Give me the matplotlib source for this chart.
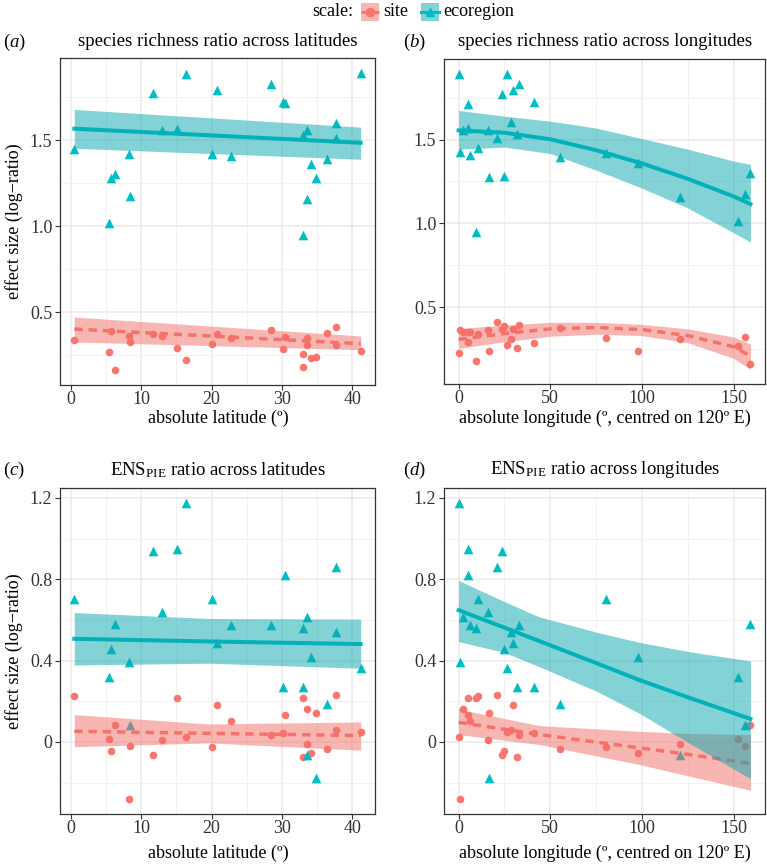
import numpy as np
import matplotlib
matplotlib.use("Agg")
import matplotlib.pyplot as plt
from matplotlib.patches import Rectangle
from matplotlib.lines import Line2D

plt.rcParams['font.family'] = ['Liberation Serif', 'DejaVu Serif']
plt.rcParams['mathtext.fontset'] = 'custom'
plt.rcParams['mathtext.rm'] = 'Liberation Serif'
plt.rcParams['mathtext.it'] = 'Liberation Serif:italic'
plt.rcParams['mathtext.bf'] = 'Liberation Serif:bold'

# ---------------- data (one entry per ecoregion) ----------------
latitude = [0.5, 5.5, 5.75, 6.27, 8.33, 8.37, 11.7, 13.0, 15.1, 16.4, 20.1, 20.8, 22.8,
            28.5, 30.1, 30.5, 33.0, 33.0, 33.5, 33.5, 34.2, 34.8, 36.4, 37.7, 37.7, 41.2]
longitude = [10.5, 152.5, 24.6, 159.2, 0.9, 156.5, 23.7, 15.9, 5.4, 0.0, 80.4, 29.7, 6.0,
             33.2, 41.3, 4.9, 9.6, 31.7, 2.4, 121.0, 98.0, 16.5, 55.3, 28.6, 20.8, 26.3]
rich_site = [0.337, 0.266, 0.388, 0.162, 0.363, 0.324, 0.372, 0.363, 0.289, 0.223, 0.314, 0.370, 0.351,
             0.396, 0.285, 0.353, 0.181, 0.258, 0.351, 0.310, 0.235, 0.239, 0.378, 0.310, 0.411, 0.275]
rich_eco = [1.448, 1.016, 1.283, 1.303, 1.423, 1.177, 1.773, 1.558, 1.568, 1.889, 1.419, 1.794, 1.409,
            1.829, 1.726, 1.715, 0.951, 1.531, 1.558, 1.160, 1.361, 1.278, 1.394, 1.603, 1.512, 1.893]
ens_site = [0.228, 0.016, -0.046, 0.083, -0.282, -0.020, -0.065, 0.010, 0.215, 0.023, -0.024, 0.181, 0.104,
            0.036, 0.046, 0.134, 0.217, -0.075, 0.163, -0.010, -0.054, 0.142, -0.033, 0.057, 0.232, 0.049]
ens_eco = [0.705, 0.318, 0.455, 0.579, 0.395, 0.085, 0.938, 0.639, 0.951, 1.176, 0.703, 0.488, 0.574,
           0.577, 0.269, 0.821, 0.560, 0.271, 0.615, -0.067, 0.416, -0.178, 0.184, 0.540, 0.860, 0.365]

# ---------------- fitted lines and confidence bands ----------------
# (a) richness vs latitude
a_x = [0.5, 41.2]
a_site_fit = [0.401, 0.316]; a_site_lo = [0.326, 0.281]; a_site_hi = [0.471, 0.361]
a_eco_fit = [1.568, 1.486]; a_eco_lo = [1.454, 1.390]; a_eco_hi = [1.680, 1.577]
# (b) richness vs longitude
b_x = [0, 25, 50, 75, 100, 125, 150, 159.2]
b_site_fit = [0.307, 0.342, 0.370, 0.378, 0.366, 0.330, 0.263, 0.208]
b_site_hi = [0.372, 0.392, 0.409, 0.409, 0.397, 0.370, 0.322, 0.279]
b_site_lo = [0.253, 0.293, 0.326, 0.338, 0.330, 0.287, 0.194, 0.129]
b_eco_fit = [1.555, 1.541, 1.502, 1.437, 1.358, 1.266, 1.161, 1.115]
b_eco_hi = [1.674, 1.640, 1.610, 1.569, 1.506, 1.443, 1.372, 1.352]
b_eco_lo = [1.443, 1.455, 1.417, 1.318, 1.210, 1.092, 0.944, 0.889]
# (c) ENS_PIE vs latitude
c_x = [0.5, 19.6, 41.2]
c_site_fit = [0.052, 0.042, 0.031]; c_site_hi = [0.134, 0.088, 0.098]; c_site_lo = [-0.024, -0.005, -0.041]
c_eco_fit = [0.507, 0.494, 0.481]; c_eco_hi = [0.636, 0.607, 0.604]; c_eco_lo = [0.378, 0.387, 0.362]
# (d) ENS_PIE vs longitude
d_site_x = [0, 44, 98.4, 125.5, 159.2]
d_site_fit = [0.096, 0.036, -0.029, -0.062, -0.106]
d_site_hi = [0.161, 0.080, 0.052, 0.041, 0.036]
d_site_lo = [0.036, -0.013, -0.111, -0.168, -0.238]
d_eco_x = [0, 25, 44, 75, 98.4, 125.5, 159.2]
d_eco_fit = [0.648, 0.562, 0.496, 0.388, 0.305, 0.218, 0.113]
d_eco_hi = [0.794, 0.690, 0.615, 0.540, 0.490, 0.444, 0.398]
d_eco_lo = [0.493, 0.440, 0.370, 0.250, 0.142, -0.005, -0.181]

titles = ['species richness ratio across latitudes',
          'species richness ratio across longitudes',
          r'ENS$_{\mathrm{PIE}}$ ratio across latitudes',
          r'ENS$_{\mathrm{PIE}}$ ratio across longitudes']
tags = [r'($\it{a}$)', r'($\it{b}$)', r'($\it{c}$)', r'($\it{d}$)']
xlabels = ['absolute latitude (º)', 'absolute longitude (º, centred on 120º E)']
ylabel = 'effect size (log\u2212ratio)'
legend_title = 'scale:'
legend_labels = ['site', 'ecoregion']

RED = '#F8766D'
TEAL = '#00BFC4'
RED_FILL = '#F36E68'
TEAL_FILL = '#06A7AF'
W, H = 767, 865

fig = plt.figure(figsize=(W / 100, H / 100), dpi=100)


def fx(px):
    return px / W


def fy(py):
    return 1 - py / H


def make_ax(l, t, r, b):
    return fig.add_axes([fx(l), fy(b), (r - l) / W, (b - t) / H])


def expand(vals, f=0.05):
    lo, hi = min(vals), max(vals)
    d = (hi - lo) * f
    return lo - d, hi + d


def panel(ax, x, site, eco, sx, sfit, slo, shi, ex, efit, elo, ehi,
          xticks, xminor, yticks, ylabs, yminor):
    ax.scatter(x, site, marker='o', s=30, color=RED, linewidths=0, zorder=2)
    ax.scatter(x, eco, marker='^', s=48, color=TEAL, linewidths=0, zorder=2)
    ax.plot(sx, sfit, color=RED, lw=2.5, ls=(0, (2.4, 1.7)), zorder=3, solid_capstyle='butt')
    ax.plot(ex, efit, color=TEAL, lw=2.9, zorder=3)
    ax.fill_between(sx, slo, shi, color=RED_FILL, alpha=0.5, lw=0, zorder=4)
    ax.fill_between(ex, elo, ehi, color=TEAL_FILL, alpha=0.5, lw=0, zorder=5)
    ax.set_xlim(*expand(list(x) + list(sx) + list(ex)))
    ax.set_ylim(*expand(list(site) + list(eco) + list(slo) + list(shi) + list(elo) + list(ehi)))
    ax.set_xticks(xticks)
    ax.set_xticks(xminor, minor=True)
    ax.set_yticks(yticks)
    ax.set_yticklabels(ylabs)
    ax.set_yticks(yminor, minor=True)
    ax.grid(which='major', color='#EBEBEB', lw=1.1, zorder=0)
    ax.grid(which='minor', color='#F2F2F2', lw=0.7, zorder=0)
    ax.set_axisbelow(True)
    ax.tick_params(which='major', direction='out', length=3.5, width=0.8, color='#333333',
                   labelsize=13, labelcolor='#333333', pad=2)
    ax.tick_params(axis='x', which='major', pad=1)
    ax.tick_params(which='minor', length=0)
    for s in ax.spines.values():
        s.set_color('#333333')
        s.set_linewidth(0.9)


axA = make_ax(60, 58, 375, 385)
axB = make_ax(444, 59, 765, 384)
axC = make_ax(60, 488, 375, 814)
axD = make_ax(444, 488, 765, 814)

lat_ticks, lat_minor = [0, 10, 20, 30, 40], [5, 15, 25, 35]
lon_ticks, lon_minor = [0, 50, 100, 150], [25, 75, 125]
r_ticks, r_labs, r_minor = [0.5, 1.0, 1.5], ['0.5', '1.0', '1.5'], [0.25, 0.75, 1.25, 1.75]
e_ticks, e_labs, e_minor = [0, 0.4, 0.8, 1.2], ['0', '0.4', '0.8', '1.2'], [-0.2, 0.2, 0.6, 1.0]

panel(axA, latitude, rich_site, rich_eco, a_x, a_site_fit, a_site_lo, a_site_hi,
      a_x, a_eco_fit, a_eco_lo, a_eco_hi, lat_ticks, lat_minor, r_ticks, r_labs, r_minor)
panel(axB, longitude, rich_site, rich_eco, b_x, b_site_fit, b_site_lo, b_site_hi,
      b_x, b_eco_fit, b_eco_lo, b_eco_hi, lon_ticks, lon_minor, r_ticks, r_labs, r_minor)
panel(axC, latitude, ens_site, ens_eco, c_x, c_site_fit, c_site_lo, c_site_hi,
      c_x, c_eco_fit, c_eco_lo, c_eco_hi, lat_ticks, lat_minor, e_ticks, e_labs, e_minor)
panel(axD, longitude, ens_site, ens_eco, d_site_x, d_site_fit, d_site_lo, d_site_hi,
      d_eco_x, d_eco_fit, d_eco_lo, d_eco_hi, lon_ticks, lon_minor, e_ticks, e_labs, e_minor)

FT = 13.5
FS = 13
# titles and tags
fig.text(fx(218), fy(42), titles[0], ha='center', va='center', fontsize=FT)
fig.text(fx(605), fy(42), titles[1], ha='center', va='center', fontsize=FT)
fig.text(fx(218), fy(470), titles[2], ha='center', va='center', fontsize=FT)
fig.text(fx(605), fy(470), titles[3], ha='center', va='center', fontsize=FT)
fig.text(fx(14), fy(42), tags[0], ha='center', va='center', fontsize=FT)
fig.text(fx(414), fy(42), tags[1], ha='center', va='center', fontsize=FT)
fig.text(fx(14), fy(470), tags[2], ha='center', va='center', fontsize=FT)
fig.text(fx(414), fy(470), tags[3], ha='center', va='center', fontsize=FT)
# axis labels
fig.text(fx(218), fy(418), xlabels[0], ha='center', va='center', fontsize=FS)
fig.text(fx(605), fy(418), xlabels[1], ha='center', va='center', fontsize=FS)
fig.text(fx(218), fy(853), xlabels[0], ha='center', va='center', fontsize=FS)
fig.text(fx(605), fy(853), xlabels[1], ha='center', va='center', fontsize=FS)
fig.text(fx(14), fy(221), ylabel, rotation=90, ha='center', va='center', fontsize=FS)
fig.text(fx(14), fy(651), ylabel, rotation=90, ha='center', va='center', fontsize=FS)

# legend (drawn in pixel space)
lax = fig.add_axes([0, 0, 1, 1], facecolor='none')
lax.set_xlim(0, W)
lax.set_ylim(H, 0)
lax.axis('off')
lax.text(353, 12, legend_title, ha='right', va='center', fontsize=FS)
for kx, col, fcol, mk, ls, lab in [(361, RED, RED_FILL, 'o', (0, (2.4, 1.7)), legend_labels[0]),
                                   (421, TEAL, TEAL_FILL, '^', '-', legend_labels[1])]:
    lax.add_patch(Rectangle((kx, 3), 18, 18, facecolor=fcol, alpha=0.5, lw=0))
    lax.add_line(Line2D([kx, kx + 18], [12, 12], color=col, lw=2.2, ls=ls))
    lax.add_line(Line2D([kx + 9], [12], color=col, marker=mk, ms=6, lw=0))
    lax.text(kx + 22, 12, lab, ha='left', va='center', fontsize=FS)

fig.savefig('out.png', dpi=100)
